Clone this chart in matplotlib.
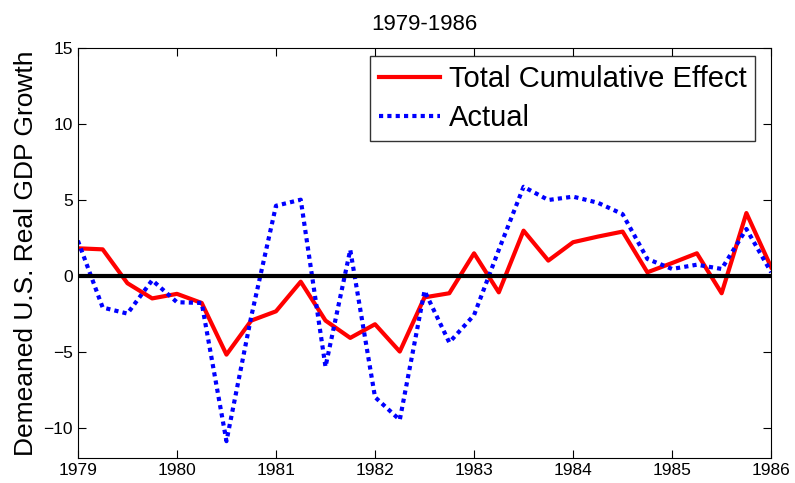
import numpy as np
import matplotlib.pyplot as plt

plt.rcParams['font.family'] = ['Liberation Sans', 'DejaVu Sans']

# quarterly dates 1979Q1 .. 1986Q1
dates = 1979 + 0.25 * np.arange(29)

total_effect = [1.8, 1.73, -0.5, -1.5, -1.2, -1.8, -5.2, -2.96, -2.35, -0.4,
                -2.96, -4.1, -3.2, -5.0, -1.43, -1.16, 1.47, -1.1, 2.96, 0.99,
                2.2, 2.57, 2.9, 0.22, 0.83, 1.47, -1.16, 4.12, 0.55]
actual = [2.3, -2.1, -2.5, -0.3, -1.75, -1.8, -10.9, -2.7, 4.6, 5.0,
          -6.0, 1.7, -8.0, -9.5, -1.0, -4.4, -2.6, 1.7, 5.85, 4.98,
          5.2, 4.8, 4.05, 1.1, 0.44, 0.72, 0.44, 3.07, 0.22]

fig = plt.figure(figsize=(7.95, 4.83), dpi=100)
ax = fig.add_axes([0.098, 0.052, 0.872, 0.849])

ax.plot(dates, total_effect, color='red', lw=3, label='Total Cumulative Effect')
ax.plot(dates, actual, color='blue', lw=3, ls=(0, (1, 1)), label='Actual')
ax.axhline(0, color='black', lw=3)

ax.set_xlim(1979, 1986)
ax.set_ylim(-12, 15)
ax.set_xticks(np.arange(1979, 1987))
ax.set_yticks([-10, -5, 0, 5, 10, 15])
ax.tick_params(direction='in', top=True, right=True, labelsize=12.5, length=6)
ax.set_ylabel('Demeaned U.S. Real GDP Growth', fontsize=19, labelpad=4)
ax.set_title('1979-1986', fontsize=16, pad=13)

leg = ax.legend(loc='upper right', bbox_to_anchor=(0.977, 0.98), fontsize=21,
                frameon=True, fancybox=False, edgecolor='black',
                handlelength=2.1, borderaxespad=0, borderpad=0.3,
                labelspacing=0.4, handletextpad=0.3)
leg.get_frame().set_linewidth(1)

fig.savefig('out.png', dpi=100)
